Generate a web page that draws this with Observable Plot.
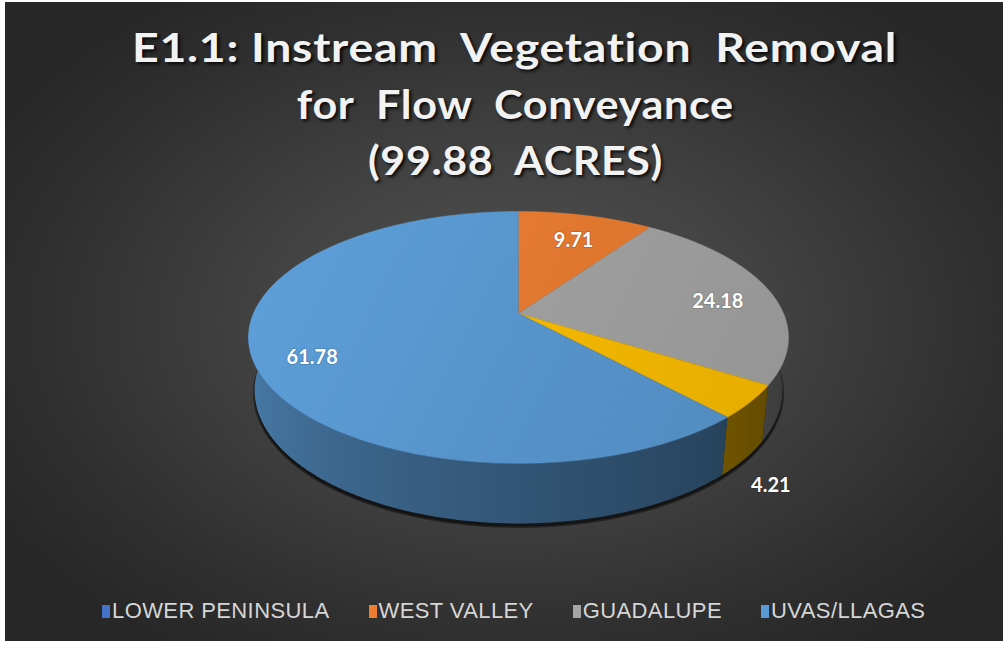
<!DOCTYPE html>
<html>
<head>
<meta charset="utf-8">
<script src="https://cdn.jsdelivr.net/npm/d3@7"></script>
<script src="https://cdn.jsdelivr.net/npm/@observablehq/plot@0.6"></script>
<style>
  html, body { margin: 0; padding: 0; background: #ffffff; }
  #frame { position: relative; width: 1003px; height: 649px; background: #ffffff; overflow: hidden; }
  #chart { position: absolute; left: 5px; top: 2px; width: 998px; height: 639px;
    background: radial-gradient(ellipse 60% 62% at 51% 50%, #525252 0%, #434343 40%, #2f2f2f 80%, #272727 100%); }
  #plot { position: absolute; left: 0; top: 0; }
  #title { position: absolute; left: 0; top: 17px; width: 998px; padding-left: 22px; box-sizing: border-box;
    text-align: center; color: #f2f2f2; font-family: Lato, "Open Sans", sans-serif; font-weight: 700;
    font-size: 40px; line-height: 56.5px; white-space: pre;
    text-shadow: 2px 2px 3px rgba(0,0,0,0.85); }
  #title span { display: inline-block; letter-spacing: 0.6px; transform-origin: 50% 50%; }
  #legend { position: absolute; left: 97px; top: 596px; display: flex; align-items: center;
    font-family: "Liberation Sans", Arial, sans-serif; font-size: 22px; letter-spacing: 0.4px; color: #d6d6d6; }
  .item { display: flex; align-items: center; margin-right: 39px; }
  .sw { width: 8px; height: 13px; margin-right: 2px; }
</style>
</head>
<body>
<div id="frame"><div id="chart"><div id="plot"></div><div id="title"></div><div id="legend"></div></div></div>
<script>
// ---- data ----
const titleLines = ["E1.1: Instream  Vegetation  Removal", "for  Flow  Conveyance", "(99.88  ACRES)"];
const titleWidths = [765, 437, 295];
const sliceValues = [9.71, 24.18, 4.21, 61.78];
const sliceColors = ["#ED7D31", "#A5A5A5", "#FFC000", "#5B9BD5"];
const legendNames = ["LOWER PENINSULA", "WEST VALLEY", "GUADALUPE", "UVAS/LLAGAS"];
const legendColors = ["#4472C4", "#ED7D31", "#A5A5A5", "#5B9BD5"];

// ---- 3D projection of a unit-radius disc ----
const SINP = 0.458, COSP = 0.889, DIST = 4.671, FOC = 1238, THICK = 0.226;
function proj(t, deg, Y) {
  const r = deg * Math.PI / 180;
  const X = t * Math.sin(r), Z = t * Math.cos(r);
  const depth = -Y * SINP + Z * COSP + DIST;
  return {x: FOC * X / depth, y: -FOC * (Y * COSP + Z * SINP) / depth};
}
function shade(hex, k) {
  const c = d3.rgb(hex);
  return d3.rgb(c.r * k, c.g * k, c.b * k).formatHex();
}
const wallK = a => 0.34 + 0.5 * Math.pow(Math.max(0, Math.min(1, (a - 95) / 170)), 1.25);

const total = d3.sum(sliceValues);
let acc = 0;
const slices = sliceValues.map((v, i) => {
  const a0 = acc / total * 360; acc += v; const a1 = acc / total * 360;
  return {i, value: v, color: sliceColors[i], a0, a1, frac: v / total};
});

const marks = [];
// shadow under the disc
const shadowPts = d3.range(0, 361, 2).map(d => proj(1.0, d, -THICK));
marks.push(Plot.line(shadowPts, {x: "x", y: "y", fill: "#111", fillOpacity: 0.85, stroke: "#111", strokeOpacity: 0.6, strokeWidth: 3, dy: 3}));

// side walls (front arc), one polygon per slice with a lighting gradient
for (const s of slices) {
  const a0 = Math.max(s.a0, 88), a1 = Math.min(s.a1, 272);
  if (a1 <= a0) continue;
  const pts = [];
  for (let a = a0; a < a1; a += 0.5) pts.push(proj(1, a, 0));
  pts.push(proj(1, a1, 0));
  for (let a = a1; a > a0; a -= 0.5) pts.push(proj(1, a, -THICK));
  pts.push(proj(1, a0, -THICK));
  marks.push(Plot.line(pts, {x: "x", y: "y", fill: `url(#wall${s.i})`, stroke: "none"}));
}

// top faces
for (const s of slices) {
  const pts = [{x: 0, y: 0}];
  for (let a = s.a0; a < s.a1; a += 0.5) pts.push(proj(1, a, 0));
  pts.push(proj(1, s.a1, 0));
  marks.push(Plot.line(pts, {x: "x", y: "y", fill: `url(#top${s.i})`, stroke: `url(#top${s.i})`, strokeWidth: 0.5}));
}

// labels
const labels = slices.map(s => {
  const mid = (s.a0 + s.a1) / 2;
  const outside = s.frac < 0.06;
  const p = outside ? proj(1.1, mid, -THICK) : proj(0.79, mid, 0);
  return {x: p.x, y: p.y + (outside ? 16 : 7), text: d3.format(".2f")(s.value)};
});
marks.push(Plot.text(labels, {x: "x", y: "y", text: "text", fill: "#ffffff", fontSize: 20, fontWeight: "bold",
  fontFamily: "Lato, 'Open Sans', sans-serif", stroke: "#000", strokeOpacity: 0.15, strokeWidth: 2}));

const chart = Plot.plot({
  width: 998, height: 639, margin: 0,
  x: {domain: [-513, 485], range: [0, 998], axis: null},
  y: {domain: [-311, 328], range: [0, 639], axis: null},
  style: {background: "transparent", overflow: "visible"},
  marks
});

// gradients (lighting) defined in the plot's own pixel space
const sx = chart.scale("x"), sy = chart.scale("y");
const ns = "http://www.w3.org/2000/svg";
const defs = document.createElementNS(ns, "defs");
const xl = sx.apply(proj(1, 101, 0).x), xr = sx.apply(proj(1, 259, 0).x);
for (const s of slices) {
  const g = document.createElementNS(ns, "linearGradient");
  g.setAttribute("id", `wall${s.i}`);
  g.setAttribute("gradientUnits", "userSpaceOnUse");
  g.setAttribute("x1", xr); g.setAttribute("x2", xl); g.setAttribute("y1", 0); g.setAttribute("y2", 0);
  const stops = d3.range(258, 100, -6).map(a => ({off: (sx.apply(proj(1, a, 0).x) - xr) / (xl - xr), col: shade(s.color, wallK(a))}));
  stops.sort((p, q) => p.off - q.off);
  for (const st of stops) {
    const e = document.createElementNS(ns, "stop");
    e.setAttribute("offset", Math.max(0, Math.min(1, st.off)));
    e.setAttribute("stop-color", st.col);
    g.appendChild(e);
  }
  defs.appendChild(g);
  const t = document.createElementNS(ns, "linearGradient");
  t.setAttribute("id", `top${s.i}`);
  t.setAttribute("gradientUnits", "userSpaceOnUse");
  t.setAttribute("x1", sx.apply(proj(1, 270, 0).x)); t.setAttribute("x2", sx.apply(proj(1, 130, 0).x));
  t.setAttribute("y1", sy.apply(proj(1, 0, 0).y)); t.setAttribute("y2", sy.apply(proj(1, 180, 0).y));
  [[0, 1.03], [0.55, 0.95], [1, 0.9]].forEach(([o, k]) => {
    const e = document.createElementNS(ns, "stop");
    e.setAttribute("offset", o);
    e.setAttribute("stop-color", shade(s.color, k));
    t.appendChild(e);
  });
  defs.appendChild(t);
}
chart.insertBefore(defs, chart.firstChild);
document.getElementById("plot").appendChild(chart);

// title, horizontally stretched to the original line widths
const titleEl = document.getElementById("title");
titleEl.innerHTML = titleLines.map(t => `<div><span>${t}</span></div>`).join("");
titleEl.querySelectorAll("span").forEach((sp, i) => {
  const w = sp.getBoundingClientRect().width;
  sp.style.transform = `scaleX(${titleWidths[i] / w})`;
});

document.getElementById("legend").innerHTML = legendNames.map((n, i) =>
  `<div class="item"><div class="sw" style="background:${legendColors[i]}"></div><span>${n}</span></div>`).join("");
</script>
</body>
</html>
